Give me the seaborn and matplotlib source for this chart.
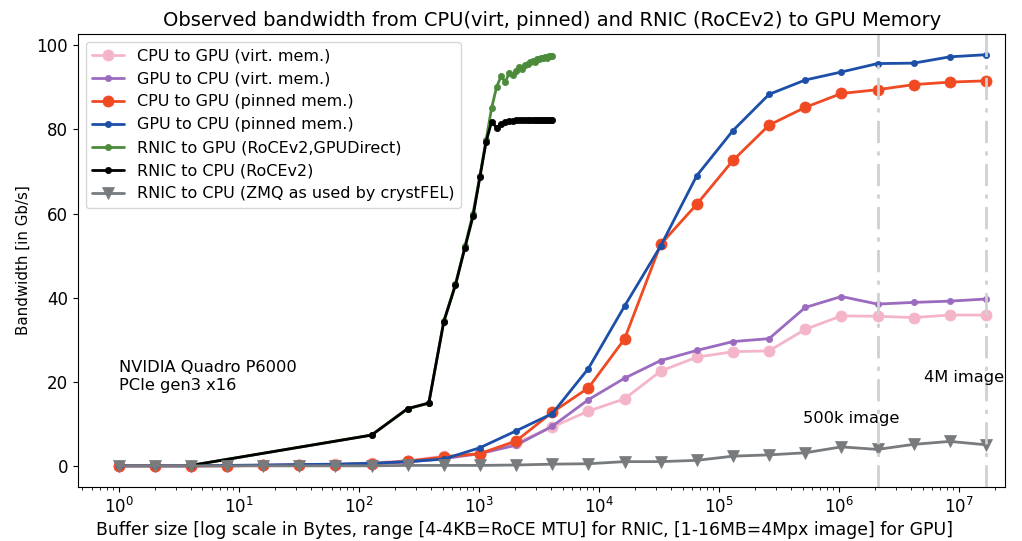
import matplotlib
matplotlib.use('Agg')
import seaborn as sns
import matplotlib.pyplot as plt

sns.set_style('ticks')
plt.rcParams['font.family'] = ['DejaVu Sans']
plt.rcParams['text.color'] = 'black'
plt.rcParams['axes.labelcolor'] = 'black'
plt.rcParams['xtick.color'] = 'black'
plt.rcParams['ytick.color'] = 'black'
plt.rcParams['axes.edgecolor'] = 'black'

# buffer sizes in bytes
gpu_sizes = [2 ** i for i in range(25)]          # 1 B .. 16 MB
rnic_sizes = [4] + list(range(128, 4097, 128))   # 4 B .. 4 KB

cpu_gpu_virt = [0.1, 0.1, 0.1, 0.1, 0.2, 0.3, 0.5, 0.8, 1.3, 2.4, 3.0, 5.5, 9.3,
                13.1, 16.0, 22.6, 25.9, 27.2, 27.4, 32.5, 35.7, 35.6, 35.3, 35.9, 35.9]
gpu_cpu_virt = [0.1, 0.1, 0.1, 0.1, 0.2, 0.3, 0.4, 0.6, 1.0, 1.8, 3.0, 5.0, 9.5,
                15.8, 20.9, 25.1, 27.5, 29.6, 30.3, 37.7, 40.3, 38.5, 38.9, 39.2, 39.7]
cpu_gpu_pinned = [0.1, 0.1, 0.1, 0.1, 0.2, 0.3, 0.4, 0.6, 1.2, 2.2, 3.0, 6.0, 12.8,
                  18.6, 30.2, 52.7, 62.2, 72.6, 81.0, 85.2, 88.5, 89.4, 90.6, 91.2, 91.5]
gpu_cpu_pinned = [0.1, 0.1, 0.1, 0.2, 0.3, 0.4, 0.5, 0.7, 1.1, 1.7, 4.4, 8.4, 12.5,
                  23.2, 38.0, 52.3, 69.0, 79.7, 88.3, 91.7, 93.6, 95.6, 95.7, 97.2, 97.7]
rnic_gpu = [0.2, 7.4, 13.6, 15.0, 34.5, 43.2, 52.2, 60.0, 69.0, 77.5, 85.0, 90.0, 92.6,
            91.2, 93.3, 92.9, 93.8, 94.7, 94.3, 95.2, 95.5, 95.9, 96.2, 96.0, 96.6,
            96.8, 96.9, 97.0, 97.1, 97.0, 97.3, 97.3, 97.4]
rnic_cpu = [0.2, 7.4, 13.7, 15.0, 34.3, 43.0, 51.9, 59.3, 68.7, 77.0, 81.8, 80.4, 81.2,
            81.7, 81.9, 82.0, 82.1, 82.1, 82.2, 82.1, 82.2, 82.1, 82.2, 82.2, 82.1,
            82.2, 82.2, 82.1, 82.2, 82.2, 82.2, 82.1, 82.2]
rnic_zmq = [0.1, 0.1, 0.1, 0.1, 0.1, 0.1, 0.1, 0.1, 0.2, 0.2, 0.2, 0.3, 0.5,
            0.6, 1.1, 1.1, 1.4, 2.4, 2.7, 3.2, 4.6, 4.0, 5.2, 5.9, 5.1]

series = [
    (gpu_sizes, cpu_gpu_virt, 'CPU to GPU (virt. mem.)', '#f5b5c8', 'o', 8),
    (gpu_sizes, gpu_cpu_virt, 'GPU to CPU (virt. mem.)', '#9b6bbf', '.', 9),
    (gpu_sizes, cpu_gpu_pinned, 'CPU to GPU (pinned mem.)', '#f04a23', 'o', 8),
    (gpu_sizes, gpu_cpu_pinned, 'GPU to CPU (pinned mem.)', '#1c4fa8', '.', 9),
    (rnic_sizes, rnic_gpu, 'RNIC to GPU (RoCEv2,GPUDirect)', '#4b8b3b', '.', 9),
    (rnic_sizes, rnic_cpu, 'RNIC to CPU (RoCEv2)', '#000000', '.', 9),
    (gpu_sizes, rnic_zmq, 'RNIC to CPU (ZMQ as used by crystFEL)', '#777b7d', 'v', 9),
]

fig, ax = plt.subplots(figsize=(10.22, 5.41), dpi=100)
fig.subplots_adjust(left=0.076, right=0.983, top=0.937, bottom=0.1)

for x, y, name, col, mk, ms in series:
    sns.lineplot(x=x, y=y, ax=ax, label=name, color=col, marker=mk, markersize=ms,
                 markeredgecolor=col, markeredgewidth=0.5, linewidth=2)

# image sizes (500k and 4M pixel images)
ax.axvline(2 ** 21, color='#cdd1d1', linestyle=(0, (8, 3, 1.5, 3)), linewidth=2)
ax.axvline(2 ** 24, color='#cdd1d1', linestyle=(0, (8, 3, 1.5, 3)), linewidth=2)

ax.set_xscale('log')
ax.set_xlim(0.457, 2.4e7)
ax.set_ylim(-4.9, 102.6)
ax.set_yticks([0, 20, 40, 60, 80, 100])

ax.text(1, 25.2, 'NVIDIA Quadro P6000\nPCIe gen3 x16', fontsize=11.7, va='top', ha='left')
ax.text(1.27e6, 11.4, '500k image', fontsize=11.7, va='center', ha='center')
ax.text(1.1e7, 21.1, '4M image', fontsize=11.7, va='center', ha='center')

ax.set_title('Observed bandwidth from CPU(virt, pinned) and RNIC (RoCEv2) to GPU Memory',
             fontsize=14, x=0.512)
ax.set_xlabel('Buffer size [log scale in Bytes, range [4-4KB=RoCE MTU] for RNIC, [1-16MB=4Mpx image] for GPU]', fontsize=12.4)
ax.xaxis.set_label_coords(0.482, -0.075)
ax.set_ylabel('Bandwidth [in Gb/s]', fontsize=10.8)
ax.tick_params(labelsize=12)

ax.legend(loc='upper left', fontsize=11.5)

fig.savefig('out.png', dpi=100)
